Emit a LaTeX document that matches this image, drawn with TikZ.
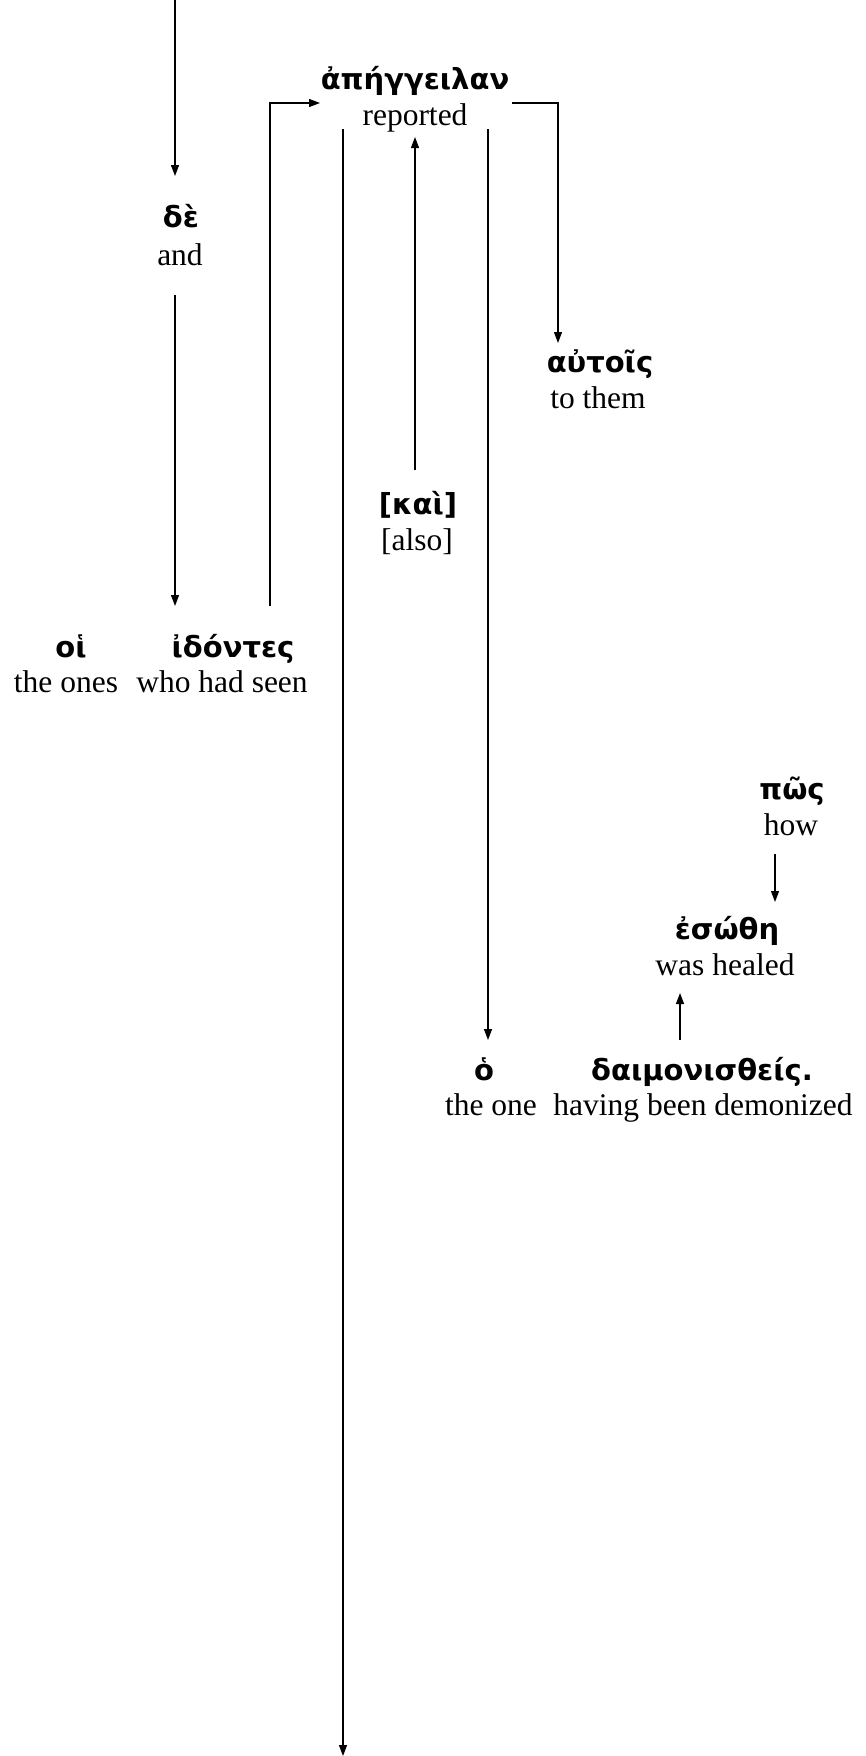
\documentclass[tikz,border=0pt]{standalone}
\usepackage{fontspec}
\setmainfont{Liberation Serif}
\newfontfamily\greek{DejaVu Sans}
\usetikzlibrary{arrows.meta}
\begin{document}
\begin{tikzpicture}[x=1pt,y=-1pt,
  gr/.style={font=\greek\bfseries\fontsize{29}{34}\selectfont, inner sep=0pt, anchor=base},
  gl/.style={font=\fontsize{31.5}{36}\selectfont, inner sep=0pt, anchor=base},
  link/.style={line width=1.2pt, -{Triangle[length=11pt,width=8pt]}}]
\useasboundingbox (0,0) rectangle (865,1756);

% words: Greek above, English gloss below
\node[gr] (de)     at (181,227)  {δὲ};
\node[gl] (de-e)   at (180,265)  {and};
\node[gr] (apg)    at (415,89)   {ἀπήγγειλαν};
\node[gl] (apg-e)  at (415,125)  {reported};
\node[gr] (aut)    at (600,372)  {αὐτοῖς};
\node[gl] (aut-e)  at (598,408)  {to them};
\node[gr] (kai)    at (418,514)  {[καὶ]};
\node[gl] (kai-e)  at (417,550)  {[also]};
\node[gr] (hoi)    at (71,657)   {οἱ};
\node[gl] (hoi-e)  at (66,692)   {the ones};
\node[gr] (ido)    at (233,657)  {ἰδόντες};
\node[gl] (ido-e)  at (222,692)  {who had seen};
\node[gr] (pos)    at (792,799)  {πῶς};
\node[gl] (pos-e)  at (791,835)  {how};
\node[gr] (eso)    at (727,939)  {ἐσώθη};
\node[gl] (eso-e)  at (725,975)  {was healed};
\node[gr] (ho)     at (484,1080) {ὁ};
\node[gl] (ho-e)   at (491,1115) {the one};
\node[gr] (dai)    at (702,1080) {δαιμονισθείς.};
\node[gl] (dai-e)  at (703,1115) {having been demonized};

% connector end points
\coordinate (in)      at (175,0);
\coordinate (de-in)   at (175,176);
\coordinate (de-out)  at (175,295);
\coordinate (ido-in)  at (175,606);
\coordinate (ido-out) at (270,606);
\coordinate (apg-in)  at (320,103);
\coordinate (apg-r)   at (512,103);
\coordinate (aut-in)  at (558,343);
\coordinate (apg-l)   at (343,129);
\coordinate (out)     at (343,1756);
\coordinate (kai-out) at (415,470);
\coordinate (apg-b)   at (415,137);
\coordinate (apg-m)   at (488,129);
\coordinate (ho-in)   at (488,1040);
\coordinate (dai-out) at (680,1040);
\coordinate (eso-in)  at (680,993);
\coordinate (pos-out) at (775,854);
\coordinate (eso-top) at (775,902);

\draw[link] (in) -- (de-in);
\draw[link] (de-out) -- (ido-in);
\draw[link] (ido-out) |- (apg-in);
\draw[link] (apg-r) -| (aut-in);
\draw[link] (apg-l) -- (out);
\draw[link] (kai-out) -- (apg-b);
\draw[link] (apg-m) -- (ho-in);
\draw[link] (dai-out) -- (eso-in);
\draw[link] (pos-out) -- (eso-top);
\end{tikzpicture}
\end{document}
